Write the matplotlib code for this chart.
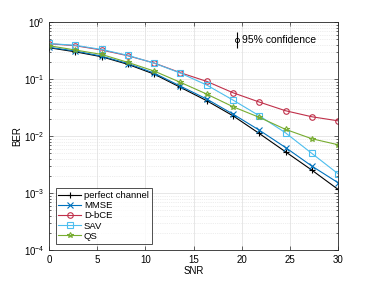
import matplotlib
matplotlib.use('Agg')
import matplotlib.pyplot as plt
import numpy as np

plt.rcParams['font.family'] = ['Liberation Sans', 'DejaVu Sans']

snr = np.linspace(0, 30, 12)

ber_perfect = [0.354, 0.30, 0.246, 0.181, 0.122, 0.0715, 0.0417, 0.0227,
               0.0111, 0.0053, 0.00253, 0.00116]
ber_mmse = [0.36, 0.31, 0.252, 0.187, 0.127, 0.075, 0.0446, 0.0243,
            0.0127, 0.0063, 0.00298, 0.00152]
ber_dbce = [0.416, 0.384, 0.323, 0.256, 0.191, 0.129, 0.091, 0.0575,
            0.0395, 0.0278, 0.0218, 0.0185]
ber_sav = [0.42, 0.39, 0.33, 0.26, 0.19, 0.127, 0.0785, 0.0428,
           0.0227, 0.0114, 0.00497, 0.00218]
ber_qs = [0.384, 0.323, 0.27, 0.196, 0.138, 0.0875, 0.0545, 0.0327,
          0.0213, 0.0131, 0.00898, 0.00704]

labels = ['perfect channel', 'MMSE', 'D-bCE', 'SAV', 'QS']
colors = ['#000000', '#0072BD', '#C0304A', '#4DBEEE', '#77AC30']
markers = ['+', 'x', 'o', 's', '*']

conf_x = 19.5
conf_y = 0.48
conf_err = [[0.13], [0.18]]

fig = plt.figure(figsize=(3.74, 2.82), dpi=100)
ax = fig.add_axes([0.131, 0.113, 0.773, 0.809])

series = [ber_perfect, ber_mmse, ber_dbce, ber_sav, ber_qs]
for y, lab, c, m in zip(series, labels, colors, markers):
    ax.semilogy(snr, y, color=c, marker=m, label=lab, linewidth=0.8,
                markersize=4, markerfacecolor='none', markeredgewidth=0.8)

ax.errorbar([conf_x], [conf_y], yerr=conf_err, fmt='o', color='black',
            markersize=3, markerfacecolor='none', linewidth=0.8,
            markeredgewidth=0.6, capsize=0)
ax.text(conf_x + 0.5, conf_y, '95% confidence', fontsize=7.5, va='center')

ax.set_xlim(0, 30)
ax.set_ylim(1e-4, 1)
ax.set_xticks([0, 5, 10, 15, 20, 25, 30])
ax.set_xlabel('SNR', fontsize=7, labelpad=1)
ax.set_ylabel('BER', fontsize=7, labelpad=1)
ax.tick_params(which='both', direction='in', top=True, right=True,
               labelsize=7, width=0.5, color='#262626')
ax.tick_params(which='major', length=3)
ax.tick_params(which='minor', length=1.5)
ax.grid(True, which='major', color='#dddddd', linewidth=0.5)
ax.grid(True, which='minor', color='#dddddd', linestyle=':', linewidth=0.5)
for s in ax.spines.values():
    s.set_linewidth(0.6)
    s.set_color('#262626')

leg = ax.legend(loc='lower left', fontsize=6.8, frameon=True, fancybox=False,
                edgecolor='black', handlelength=2.4, borderaxespad=0.7,
                labelspacing=0.12, borderpad=0.3, handletextpad=0.3)
leg.get_frame().set_linewidth(0.6)

fig.savefig('out.png', dpi=100)
